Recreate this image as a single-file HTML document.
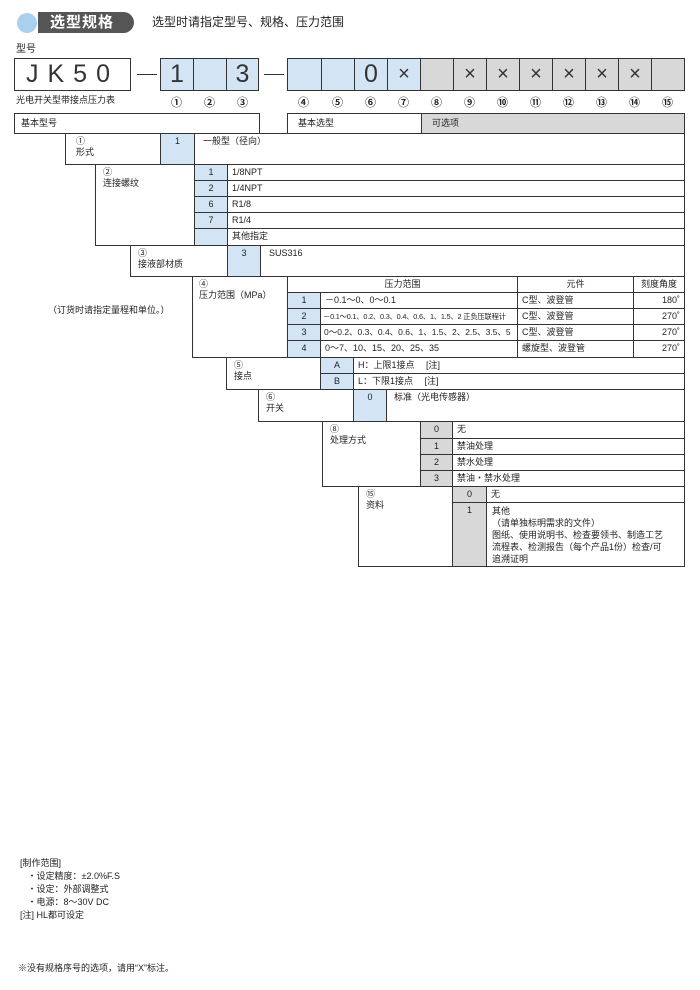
<!DOCTYPE html>
<html><head><meta charset="utf-8"><style>
body{margin:0;width:700px;height:990px;background:#fff;position:relative;overflow:hidden;font-family:"Liberation Sans","Noto Sans CJK SC",sans-serif;color:#222;}
.c{position:absolute;box-sizing:border-box;border:1px solid #333;font-size:9px;line-height:11px;padding:2px 4px;white-space:nowrap;overflow:hidden;background:#fff}
.b{background:#d3e5f4;text-align:center}
.g{background:#d8d8d8;text-align:center}
.t{position:absolute;font-size:9px;line-height:11px;white-space:nowrap}
.big{position:absolute;box-sizing:border-box;border:1px solid #333;font-size:25px;text-align:center;line-height:31px;color:#333}
.n{position:absolute;font-size:11px;width:33px;text-align:center;top:94px;font-weight:bold}
</style></head><body>
<div style="position:absolute;left:17px;top:13px;width:20px;height:20px;border-radius:50%;background:#a9d0ee"></div>
<div style="position:absolute;left:38px;top:12px;width:96px;height:21px;background:#555;border-radius:0 11px 11px 0;color:#fff;font-size:15px;font-weight:bold;line-height:21px;padding-left:12px;box-sizing:border-box;letter-spacing:1px">选型规格</div>
<div class="t" style="left:152px;top:15px;font-size:12px;line-height:14px">选型时请指定型号、规格、压力范围</div>
<div class="t" style="left:16px;top:44px;font-size:10px">型号</div>
<div class="big" style="left:14px;top:58px;width:117px;height:33px;letter-spacing:9px">JK50</div>
<div style="position:absolute;left:137px;top:74px;width:20px;height:1px;background:#333"></div>
<div class="big b" style="left:160px;top:58px;width:34px;height:33px">1</div>
<div class="big b" style="left:193px;top:58px;width:34px;height:33px"></div>
<div class="big b" style="left:226px;top:58px;width:33px;height:33px">3</div>
<div style="position:absolute;left:264px;top:74px;width:20px;height:1px;background:#333"></div>
<div class="big b" style="left:287px;top:58px;width:35px;height:33px"></div>
<div class="big b" style="left:321px;top:58px;width:34px;height:33px"></div>
<div class="big b" style="left:354px;top:58px;width:34px;height:33px">0</div>
<div class="big b" style="left:387px;top:58px;width:34px;height:33px;font-size:20px">×</div>
<div class="big g" style="left:420px;top:58px;width:34px;height:33px"></div>
<div class="big g" style="left:453px;top:58px;width:34px;height:33px;font-size:20px">×</div>
<div class="big g" style="left:486px;top:58px;width:34px;height:33px;font-size:20px">×</div>
<div class="big g" style="left:519px;top:58px;width:34px;height:33px;font-size:20px">×</div>
<div class="big g" style="left:552px;top:58px;width:34px;height:33px;font-size:20px">×</div>
<div class="big g" style="left:585px;top:58px;width:34px;height:33px;font-size:20px">×</div>
<div class="big g" style="left:618px;top:58px;width:34px;height:33px;font-size:20px">×</div>
<div class="big g" style="left:651px;top:58px;width:34px;height:33px"></div>
<div class="t" style="left:16px;top:95px">光电开关型带接点压力表</div>
<div class="n" style="left:160px">①</div><div class="n" style="left:193px">②</div><div class="n" style="left:226px">③</div>
<div class="n" style="left:287px">④</div><div class="n" style="left:321px">⑤</div><div class="n" style="left:354px">⑥</div><div class="n" style="left:387px">⑦</div>
<div class="n" style="left:420px">⑧</div><div class="n" style="left:453px">⑨</div><div class="n" style="left:486px">⑩</div><div class="n" style="left:519px">⑪</div><div class="n" style="left:552px">⑫</div><div class="n" style="left:585px">⑬</div><div class="n" style="left:618px">⑭</div><div class="n" style="left:651px">⑮</div>

<div class="c" style="left:14px;top:113px;width:246px;height:21px;padding:4px 6px">基本型号</div>
<div class="c" style="left:287px;top:113px;width:135px;height:21px;padding:4px 10px">基本选型</div>
<div class="c" style="left:421px;top:113px;width:264px;height:21px;padding:4px 10px;background:#d8d8d8">可选项</div>

<div class="c" style="left:65px;top:133px;width:96px;height:32px;padding:2px 10px">①<br>形式</div>
<div class="c b" style="left:160px;top:133px;width:35px;height:32px">1</div>
<div class="c" style="left:194px;top:133px;width:491px;height:32px;padding:2px 8px">一般型（径向）</div>

<div class="c" style="left:95px;top:164px;width:100px;height:82px;padding:2px 7px">②<br>连接螺纹</div>
<div class="c b" style="left:194px;top:164px;width:34px;height:17px">1</div><div class="c" style="left:227px;top:164px;width:458px;height:17px">1/8NPT</div>
<div class="c b" style="left:194px;top:180px;width:34px;height:17px">2</div><div class="c" style="left:227px;top:180px;width:458px;height:17px">1/4NPT</div>
<div class="c b" style="left:194px;top:196px;width:34px;height:17px">6</div><div class="c" style="left:227px;top:196px;width:458px;height:17px">R1/8</div>
<div class="c b" style="left:194px;top:212px;width:34px;height:17px">7</div><div class="c" style="left:227px;top:212px;width:458px;height:17px">R1/4</div>
<div class="c b" style="left:194px;top:228px;width:34px;height:18px"></div><div class="c" style="left:227px;top:228px;width:458px;height:18px">其他指定</div>

<div class="c" style="left:130px;top:245px;width:98px;height:32px;padding:2px 7px">③<br>接液部材质</div>
<div class="c b" style="left:227px;top:245px;width:34px;height:32px">3</div>
<div class="c" style="left:260px;top:245px;width:425px;height:32px;padding:2px 8px">SUS316</div>

<div class="t" style="left:48px;top:305px">（订货时请指定量程和单位。）</div>
<div class="c" style="left:192px;top:276px;width:96px;height:82px;padding:2px 6px">④<br>压力范围（MPa）</div>
<div class="c" style="left:287px;top:276px;width:231px;height:17px;text-align:center">压力范围</div>
<div class="c" style="left:517px;top:276px;width:117px;height:17px;text-align:center">元件</div>
<div class="c" style="left:633px;top:276px;width:52px;height:17px;text-align:center;padding:2px 0">刻度角度</div>
<div class="c b" style="left:287px;top:292px;width:34px;height:17px">1</div><div class="c" style="left:320px;top:292px;width:198px;height:17px">－0.1～0、0～0.1</div><div class="c" style="left:517px;top:292px;width:117px;height:17px">C型、波登管</div><div class="c" style="left:633px;top:292px;width:52px;height:17px;text-align:right">180˚</div>
<div class="c b" style="left:287px;top:308px;width:34px;height:17px">2</div><div class="c" style="left:320px;top:308px;width:198px;height:17px;font-size:7.3px;letter-spacing:-0.2px;padding:2px 2px">－0.1～0.1、0.2、0.3、0.4、0.6、1、1.5、2 正负压联程计</div><div class="c" style="left:517px;top:308px;width:117px;height:17px">C型、波登管</div><div class="c" style="left:633px;top:308px;width:52px;height:17px;text-align:right">270˚</div>
<div class="c b" style="left:287px;top:324px;width:34px;height:17px">3</div><div class="c" style="left:320px;top:324px;width:198px;height:17px;font-size:8.5px;padding:2px 3px">0～0.2、0.3、0.4、0.6、1、1.5、2、2.5、3.5、5</div><div class="c" style="left:517px;top:324px;width:117px;height:17px">C型、波登管</div><div class="c" style="left:633px;top:324px;width:52px;height:17px;text-align:right">270˚</div>
<div class="c b" style="left:287px;top:340px;width:34px;height:18px">4</div><div class="c" style="left:320px;top:340px;width:198px;height:18px">0～7、10、15、20、25、35</div><div class="c" style="left:517px;top:340px;width:117px;height:18px">螺旋型、波登管</div><div class="c" style="left:633px;top:340px;width:52px;height:18px;text-align:right">270˚</div>

<div class="c" style="left:226px;top:357px;width:95px;height:33px;padding:2px 7px">⑤<br>接点</div>
<div class="c b" style="left:320px;top:357px;width:34px;height:17px">A</div><div class="c" style="left:353px;top:357px;width:332px;height:17px">H：上限1接点　 [注]</div>
<div class="c b" style="left:320px;top:373px;width:34px;height:17px">B</div><div class="c" style="left:353px;top:373px;width:332px;height:17px">L：下限1接点　 [注]</div>

<div class="c" style="left:258px;top:389px;width:96px;height:33px;padding:2px 7px">⑥<br>开关</div>
<div class="c b" style="left:353px;top:389px;width:34px;height:33px">0</div>
<div class="c" style="left:386px;top:389px;width:299px;height:33px;padding:2px 7px">标准（光电传感器）</div>

<div class="c" style="left:322px;top:421px;width:99px;height:66px;padding:2px 7px">⑧<br>处理方式</div>
<div class="c g" style="left:420px;top:421px;width:33px;height:18px">0</div><div class="c" style="left:452px;top:421px;width:233px;height:18px">无</div>
<div class="c g" style="left:420px;top:438px;width:33px;height:17px">1</div><div class="c" style="left:452px;top:438px;width:233px;height:17px">禁油处理</div>
<div class="c g" style="left:420px;top:454px;width:33px;height:17px">2</div><div class="c" style="left:452px;top:454px;width:233px;height:17px">禁水处理</div>
<div class="c g" style="left:420px;top:470px;width:33px;height:17px">3</div><div class="c" style="left:452px;top:470px;width:233px;height:17px">禁油・禁水处理</div>

<div class="c" style="left:358px;top:486px;width:95px;height:81px;padding:2px 7px">⑮<br>资料</div>
<div class="c g" style="left:452px;top:486px;width:35px;height:17px">0</div><div class="c" style="left:486px;top:486px;width:199px;height:17px">无</div>
<div class="c g" style="left:452px;top:502px;width:35px;height:65px">1</div>
<div class="c" style="left:486px;top:502px;width:199px;height:65px;white-space:normal;padding:2px 10px 2px 5px;line-height:12px">其他<br>（请单独标明需求的文件）<br>图纸、使用说明书、检查要领书、制造工艺<br>流程表、检测报告（每个产品1份）检查/可<br>追溯证明</div>

<div class="t" style="left:20px;top:857px;line-height:13px">[制作范围]<br>&nbsp;&nbsp;&nbsp;・设定精度：±2.0%F.S<br>&nbsp;&nbsp;&nbsp;・设定：外部调整式<br>&nbsp;&nbsp;&nbsp;・电源：8～30V DC<br>[注] HL都可设定</div>
<div class="t" style="left:18px;top:963px">※没有规格序号的选项，请用“X”标注。</div>
</body></html>
